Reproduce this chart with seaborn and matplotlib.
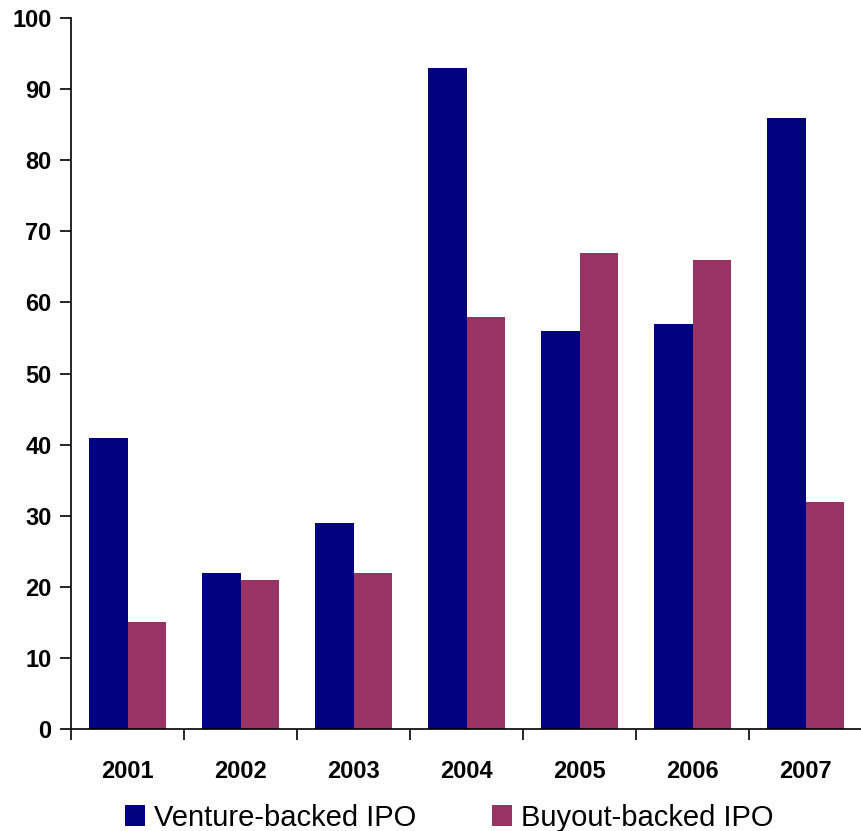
import numpy as np
import pandas as pd
import seaborn as sns
import matplotlib.pyplot as plt
from matplotlib.ticker import FixedLocator

#########################
# Data
#########################

years = ['2001', '2002', '2003', '2004', '2005', '2006', '2007']
venture = [41, 22, 29, 93, 56, 57, 86]
buyout = [15, 21, 22, 58, 67, 66, 32]
series_names = ['Venture-backed IPO', 'Buyout-backed IPO']
colors = ['#000080', '#993366']

df = pd.DataFrame({
    'Year': years * 2,
    'IPOs': venture + buyout,
    'Type': [series_names[0]] * len(years) + [series_names[1]] * len(years),
})

#########################
# Plot
#########################

sns.set_style("white")
plt.rcParams['font.family'] = ['Liberation Sans', 'DejaVu Sans']
plt.rcParams['text.color'] = 'black'
plt.rcParams['xtick.color'] = 'black'
plt.rcParams['ytick.color'] = 'black'

fig = plt.figure(figsize=(8.62, 8.31), dpi=100)
ax = fig.add_axes([0.0824, 0.1227, 0.9176, 0.8556])

sns.barplot(data=df, x='Year', y='IPOs', hue='Type', palette=colors,
            width=0.68, saturation=1, linewidth=0, ax=ax, legend=True)

ax.set_xlim(-0.5, len(years) - 0.5)
ax.set_ylim(0, 100)
ax.set_yticks(range(0, 101, 10))
ax.set_xlabel('')
ax.set_ylabel('')

# ticks between categories
ax.xaxis.set_minor_locator(FixedLocator(np.arange(-0.5, len(years), 1)))
ax.tick_params(axis='x', which='major', length=0, pad=22, labelsize=17)
ax.tick_params(axis='x', which='minor', length=8, width=1.2, direction='out', bottom=True)
ax.tick_params(axis='y', length=8, width=1.2, direction='out', left=True, labelsize=17, pad=6)
for lab in ax.get_xticklabels() + ax.get_yticklabels():
    lab.set_fontweight('bold')

for s in ['top', 'right']:
    ax.spines[s].set_visible(False)
for s in ['left', 'bottom']:
    ax.spines[s].set_color('black')
    ax.spines[s].set_linewidth(1.2)

handles, labels = ax.get_legend_handles_labels()
ax.legend(handles, labels, loc='center', bbox_to_anchor=(0.478, -0.125),
          ncol=2, frameon=False, fontsize=21, handlelength=0.7, handleheight=0.7,
          handletextpad=0.3, columnspacing=2.6, borderaxespad=0)

plt.savefig('out.png', dpi=100)
